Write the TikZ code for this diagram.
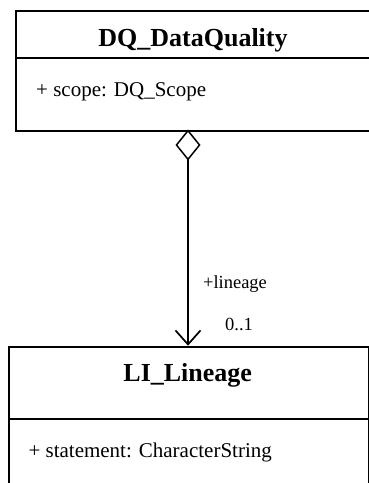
\documentclass[tikz,border=0pt]{standalone}
\usepackage{fontspec}
\setmainfont{Liberation Serif}
\usetikzlibrary{arrows.meta}
\begin{document}
\begin{tikzpicture}[x=1pt,y=1pt,
  compart/.style={draw, line width=2pt, rectangle, inner sep=0pt, anchor=north west},
  classname/.style={font=\fontsize{26}{30}\selectfont\bfseries, inner sep=0pt, anchor=base},
  attr/.style={font=\fontsize{21}{25}\selectfont, inner sep=0pt, anchor=base west},
  rolelabel/.style={font=\fontsize{18.5}{22}\selectfont, inner sep=0pt, anchor=base},
  assoc/.style={line width=1.7pt, {Diamond[open, length=31pt, width=25pt, line width=1.5pt]}-{Straight Barb[length=14pt, width=25pt, line width=1.7pt]}}]
\useasboundingbox (0,0) rectangle (369,-483);
% DQ_DataQuality
\node[compart, minimum width=362pt, minimum height=47pt] (dqhead) at (15,-10) {};
\node[compart, minimum width=362pt, minimum height=72.5pt] (dqbody) at (15,-57) {};
\node[classname] (dqname) at (193,-46.5) {DQ\_DataQuality};
\node[attr] (dqattr) at (36,-96.5) {+ scope: DQ\_Scope};
% LI_Lineage
\node[compart, minimum width=360pt, minimum height=72pt] (lihead) at (7.7,-345.7) {};
\node[compart, minimum width=360pt, minimum height=80pt] (libody) at (7.7,-417.7) {};
\node[classname] (liname) at (187.7,-381.7) {LI\_Lineage};
\node[attr] (liattr) at (28.3,-457) {+ statement: CharacterString};
% association
\coordinate (src) at (188,-129.5);
\coordinate (dst) at (188,-345.7);
\draw[assoc] (src) -- (dst);
\node[rolelabel] (role) at (235,-288) {+lineage};
\node[rolelabel] (mult) at (239,-330.7) {0..1};
\end{tikzpicture}
\end{document}
